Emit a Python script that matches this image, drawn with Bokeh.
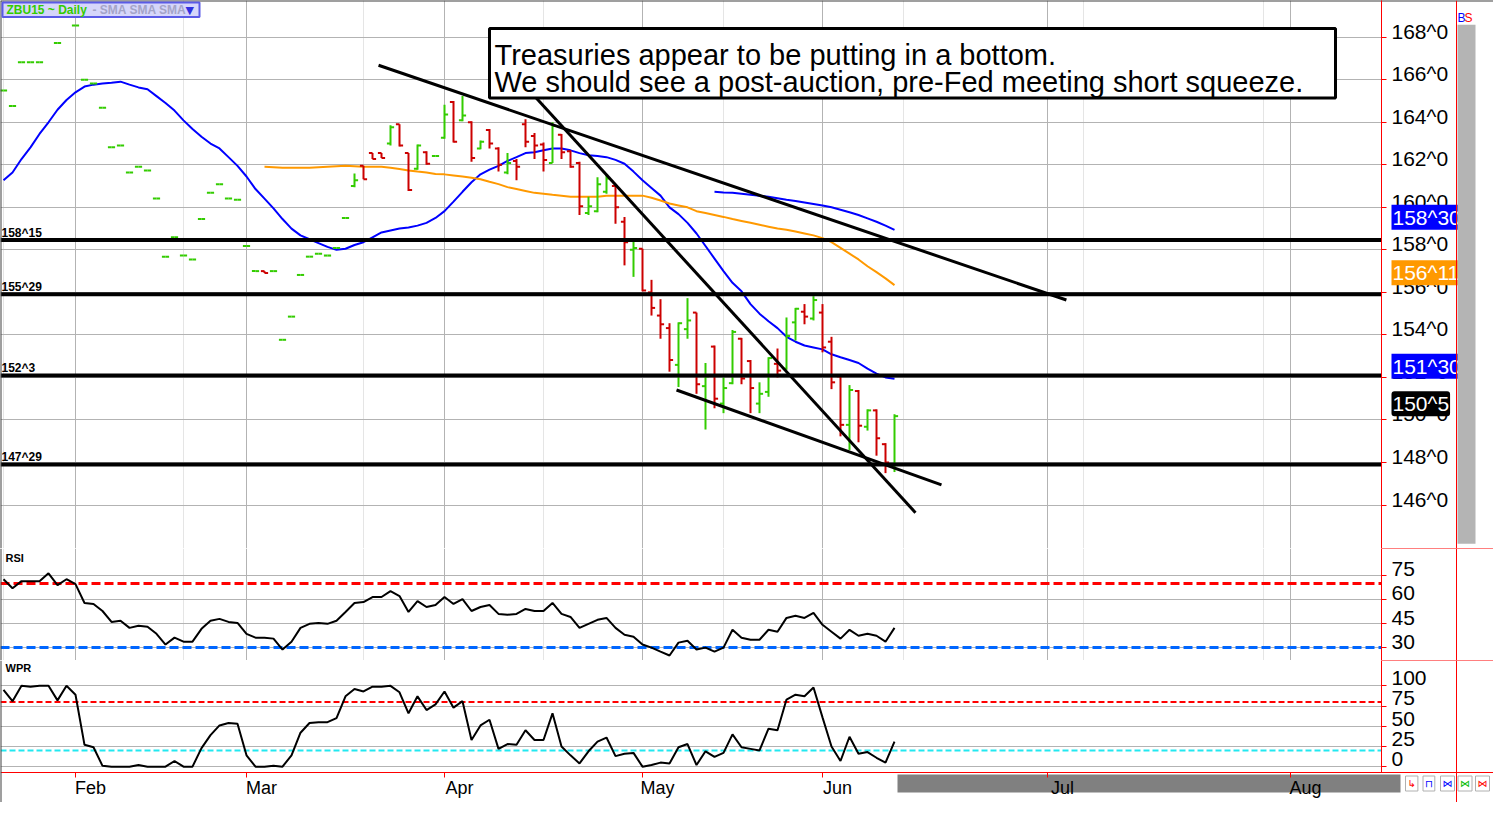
from bokeh.plotting import figure
from bokeh.models import (Range1d, LinearAxis, FixedTicker, CustomJSTickFormatter, Grid,
                          Span, BoxAnnotation, Label, ColumnDataSource)
from bokeh.layouts import column
from bokeh.transform import dodge
from bokeh.core.properties import value
from bokeh.embed import file_html
from bokeh.resources import INLINE

# ---------------- data ----------------
opens = [165.50, 164.77, 166.82, 166.82, 166.82, 169.05, 167.73, 169.09, 168.55, 166.00,
         165.82, 164.68, 162.82, 162.91, 161.64, 161.91, 161.73, 160.41, 157.68, 158.59,
         157.73, 157.55, 159.45, 160.68, 161.09, 160.41, 160.36, 158.18, 157.00, 157.00,
         157.00, 153.77, 154.86, 156.82, 157.68, 157.82, 157.73, 158.09, 159.50,
         161.00, 161.95, 162.55, 162.55, 163.00, 163.91, 162.55, 161.82, 162.59, 162.41,
         163.27, 164.95, 164.09, 164.00, 162.77, 163.64, 162.77, 161.64, 162.18, 163.91,
         163.36, 162.95, 162.09, 163.41, 162.64, 162.09, 159.73, 159.82, 160.73, 161.00,
         159.32, 158.00, 158.05, 156.00, 154.91, 154.32, 152.59, 154.27, 155.05, 151.59,
         153.45, 150.77, 151.73, 153.82, 152.77, 150.77, 151.32, 152.64, 152.41, 154.59,
         155.09, 154.77, 155.05, 153.68, 152.05, 149.77, 151.36, 149.68, 150.45, 148.86,
         147.91]
highs = [165.50, 164.77, 166.82, 166.82, 166.82, 169.05, 167.73, 169.09, 168.55, 166.00,
         165.82, 164.68, 162.82, 162.91, 161.64, 161.91, 161.73, 160.41, 157.68, 158.59,
         157.73, 157.55, 159.45, 160.68, 161.09, 160.41, 160.36, 158.18, 157.00, 157.00,
         157.00, 153.77, 154.86, 156.82, 157.68, 157.82, 157.73, 158.09, 159.50,
         161.59, 161.95, 162.55, 162.55, 163.86, 163.91, 162.55, 162.95, 162.64, 162.41,
         164.82, 165.00, 165.23, 164.05, 163.14, 163.68, 162.82, 162.55, 162.27, 164.14,
         163.50, 163.05, 164.00, 163.45, 162.68, 162.14, 160.50, 161.41, 161.55, 161.05,
         159.55, 158.41, 158.05, 156.59, 155.68, 154.55, 154.59, 155.73, 155.05, 152.68,
         153.50, 152.00, 154.23, 153.86, 152.82, 151.77, 152.95, 153.36, 154.82, 155.27,
         155.45, 155.82, 155.45, 153.91, 152.09, 151.64, 151.41, 150.50, 150.50, 148.91,
         150.27]
lows = [165.50, 164.77, 166.82, 166.82, 166.82, 169.05, 167.73, 169.09, 168.55, 166.00,
        165.82, 164.68, 162.82, 162.91, 161.64, 161.91, 161.73, 160.41, 157.68, 158.59,
        157.73, 157.55, 159.45, 160.68, 161.09, 160.41, 160.36, 158.18, 157.00, 156.91,
        157.00, 153.77, 154.86, 156.82, 157.68, 157.82, 157.73, 158.09, 159.50,
        160.95, 161.32, 162.27, 162.32, 162.91, 162.86, 160.77, 161.77, 162.00, 162.41,
        163.23, 163.05, 164.05, 162.14, 162.73, 162.77, 161.68, 161.55, 161.27, 162.82,
        162.27, 161.68, 162.09, 162.27, 161.86, 159.64, 159.64, 159.77, 160.64, 159.23,
        157.27, 156.73, 156.05, 154.91, 153.82, 152.27, 151.55, 153.82, 151.23, 149.55,
        150.55, 150.32, 151.68, 151.68, 150.32, 150.32, 151.09, 152.00, 152.36, 153.73,
        154.50, 154.68, 153.18, 151.45, 149.23, 148.59, 148.95, 149.50, 148.32, 147.50,
        147.55]
closes = [165.50, 164.77, 166.82, 166.82, 166.82, 169.05, 167.73, 169.09, 168.55, 166.00,
          165.82, 164.68, 162.82, 162.91, 161.64, 161.91, 161.73, 160.41, 157.68, 158.59,
          157.73, 157.55, 159.45, 160.68, 161.09, 160.41, 160.36, 158.18, 157.00, 156.91,
          157.00, 153.77, 154.86, 156.82, 157.68, 157.82, 157.73, 158.09, 159.50,
          161.27, 161.32, 162.27, 162.32, 163.77, 162.91, 160.82, 162.91, 162.05, 162.41,
          164.36, 163.09, 164.32, 162.32, 163.09, 163.00, 162.00, 162.09, 161.91, 163.09,
          162.91, 162.23, 163.82, 162.59, 161.91, 160.05, 160.05, 161.09, 161.36, 160.00,
          158.36, 158.09, 156.09, 155.27, 154.50, 152.82, 154.55, 154.68, 151.68, 152.05,
          151.00, 151.50, 154.14, 151.95, 151.50, 151.23, 152.91, 152.32, 153.95, 155.23,
          154.86, 155.64, 153.41, 151.77, 149.77, 151.41, 149.73, 150.45, 149.14, 148.00,
          150.18]

sma_fast = [161.27, 161.64, 162.27, 162.82, 163.45, 164.00, 164.59, 165.05, 165.41, 165.68,
            165.77, 165.82, 165.86, 165.91, 165.77, 165.64, 165.55, 165.23, 164.91, 164.55,
            164.09, 163.68, 163.32, 163.00, 162.77, 162.36, 161.95, 161.45, 160.86, 160.41,
            159.95, 159.45, 159.00, 158.68, 158.50, 158.32, 158.14, 158.00, 158.05, 158.23,
            158.36, 158.59, 158.82, 158.91, 159.00, 159.05, 159.14, 159.27, 159.50, 159.82,
            160.27, 160.73, 161.18, 161.55, 161.77, 161.95, 162.18, 162.36, 162.55, 162.59,
            162.68, 162.77, 162.77, 162.68, 162.55, 162.45, 162.41, 162.36, 162.23, 162.05,
            161.68, 161.27, 160.91, 160.55, 160.00, 159.68, 159.27, 158.77, 158.18, 157.59,
            157.00, 156.45, 156.05, 155.45, 155.00, 154.64, 154.32, 153.91, 153.68, 153.50,
            153.41, 153.32, 153.09, 152.95, 152.82, 152.68, 152.41, 152.18, 152.00, 151.94]
sma_mid_first = 29
sma_mid = [161.91, 161.89, 161.86, 161.86, 161.86, 161.86, 161.89, 161.91, 161.93, 161.95,
           161.93, 161.91, 161.91, 161.91, 161.86, 161.80, 161.73, 161.68, 161.64, 161.57,
           161.55, 161.50, 161.45, 161.39, 161.32, 161.20, 161.09, 160.95, 160.86, 160.77,
           160.68, 160.64, 160.59, 160.55, 160.50, 160.50, 160.50, 160.50, 160.55, 160.55,
           160.55, 160.55, 160.55, 160.45, 160.32, 160.18, 160.09, 160.00, 159.82, 159.73,
           159.64, 159.55, 159.45, 159.36, 159.27, 159.18, 159.09, 159.00, 158.95, 158.86,
           158.77, 158.68, 158.55, 158.36, 158.09, 157.82, 157.55, 157.23, 156.95, 156.66,
           156.34]
sma_slow_first = 79
sma_slow = [160.73, 160.70, 160.68, 160.64, 160.59, 160.55, 160.50, 160.43, 160.36, 160.30,
            160.23, 160.16, 160.09, 160.00, 159.89, 159.77, 159.64, 159.48, 159.32, 159.14,
            158.94]

rsi = [72.6, 67.0, 71.4, 71.4, 71.4, 76.3, 68.9, 72.6, 69.5, 57.8,
       57.2, 52.8, 46.0, 46.7, 42.3, 43.6, 43.0, 38.6, 31.9, 36.2,
       33.7, 33.7, 41.7, 46.7, 47.9, 46.0, 45.4, 38.6, 36.2, 36.2,
       35.6, 28.8, 33.7, 42.3, 44.8, 45.4, 44.8, 46.7, 52.2, 57.8,
       58.4, 61.5, 61.5, 65.2, 62.1, 52.2, 59.0, 55.3, 56.5, 61.5,
       57.2, 60.2, 52.8, 55.3, 56.5, 51.0, 50.4, 51.0, 54.1, 52.8,
       52.8, 57.8, 51.0, 49.1, 42.3, 44.8, 47.3, 48.5, 42.3, 38.0,
       36.8, 31.9, 30.0, 27.5, 25.1, 33.1, 34.3, 28.8, 30.0, 27.5,
       30.0, 41.1, 36.2, 34.9, 34.9, 41.1, 39.9, 48.5, 49.8, 48.5,
       51.6, 44.2, 39.9, 35.6, 41.1, 37.4, 38.6, 37.4, 33.7, 42.3]
wpr = [95, 81, 100, 99, 100, 100, 82, 100, 89, 27,
       24, 1, 0, 0, 0, 2, 0, 0, 0, 7,
       0, 0, 23, 39, 51, 54, 53, 14, 0, 0,
       1, 0, 14, 42, 54, 55, 55, 60, 87, 96,
       93, 99, 99, 100, 92, 66, 87, 70, 77, 93,
       73, 81, 33, 51, 58, 22, 28, 27, 45, 33,
       33, 66, 25, 14, 4, 19, 31, 36, 13, 16,
       17, 0, 2, 5, 4, 24, 28, 2, 19, 12,
       17, 40, 24, 22, 20, 47, 45, 83, 89, 87,
       98, 61, 25, 7, 37, 16, 18, 11, 5, 31]

levels = [158 + 15 / 32, 155 + 29 / 32, 152 + 3 / 32, 147 + 29 / 32]
level_labels = ["158^15", "155^29", "152^3", "147^29"]

trend_x0 = [41.67, 57.44, 74.78]
trend_y0 = [166.68, 165.95, 151.41]
trend_x1 = [118.10, 101.33, 104.22]
trend_y1 = [155.64, 145.64, 146.95]

price_ticks = [146, 148, 150, 152, 154, 156, 158, 160, 162, 164, 166, 168]
price_tick_labels = ["146^0", "148^0", "150^0", "152^0", "154^0", "156^0",
                     "158^0", "160^0", "162^0", "164^0", "166^0", "168^0"]
rsi_ticks = [30, 45, 60, 75]
rsi_tick_labels = ["30", "45", "60", "75"]
wpr_ticks = [0, 25, 50, 75, 100]
wpr_tick_labels = ["0", "25", "50", "75", "100"]
month_ticks = [8, 27, 49, 71, 91, 116, 143]
month_labels = ["Feb", "Mar", "Apr", "May", "Jun", "Jul", "Aug"]

rsi_bands = [70, 30]
wpr_bands = [80, 20]

last_labels = ["158^30", "156^11", "151^30", "150^5"]
last_values = [sma_slow[-1], sma_mid[-1], sma_fast[-1], closes[-1]]
last_colors = ["#0000ff", "#ff9900", "#0000ff", "#000000"]

note_lines = ["Treasuries appear to be putting in a bottom.",
              "We should see a post-auction, pre-Fed meeting short squeeze."]

# ---------------- layout ----------------
FULL = 1493
AXIS_PX = 1381
H_MAIN, H_RSI, H_WPR = 548, 112, 142
WPR_PLOT = 112
GRID = "#b3b3b3"
GREEN = "#33cc00"
RED = "#cc0000"
FONT = "Liberation Sans"


def bx(xpix):
    return (xpix - 3) / 9.0


def by(ypix):
    return 168 - (ypix - 38) / 22.0


def ry(ypix):
    return 30 + (667 - ypix) / 1.62


WPR_TOP = (789 - 680) / 0.83
WPR_AX = (789 - 795) / 0.83
WPR_PXU = WPR_PLOT / (WPR_TOP - WPR_AX)
WPR_BOT = WPR_AX - (H_WPR - WPR_PLOT) / WPR_PXU


def wy(ypix):
    return WPR_AX + (795 - ypix) / WPR_PXU


xr = Range1d(bx(0), bx(FULL))
AXIS_X = bx(AXIS_PX)

common = dict(width=FULL, x_range=xr, toolbar_location=None, output_backend="svg",
              y_axis_location="right", min_border_left=0, min_border_right=0,
              min_border_top=0, min_border_bottom=0, title=None,
              background_fill_color="white", border_fill_color="white", outline_line_color=None)


def right_axes(fig, ticks, labels, frame_h, bounds=None, shift_px=6):
    rng = fig.y_range
    ax = fig.yaxis[0]
    ax.fixed_location = AXIS_X
    ax.ticker = FixedTicker(ticks=ticks)
    ax.axis_line_color = "#ff0000"
    ax.major_tick_line_color = "#ff0000"
    ax.major_tick_out = 5
    ax.major_tick_in = 0
    ax.minor_tick_line_color = None
    ax.formatter = CustomJSTickFormatter(code="return ''")
    ax.major_label_text_font_size = "1px"
    ax.major_label_standoff = 0
    if bounds is not None:
        ax.bounds = bounds
    d = shift_px * (rng.end - rng.start) / frame_h
    fig.extra_y_ranges = {"lab": Range1d(rng.start - d, rng.end - d)}
    lab = LinearAxis(y_range_name="lab", ticker=FixedTicker(ticks=ticks), fixed_location=AXIS_X,
                     formatter=CustomJSTickFormatter(
                         args=dict(tk=ticks, lb=labels),
                         code="const i = Array.from(tk).indexOf(tick); return i < 0 ? '' : lb[i];"))
    lab.axis_line_color = None
    lab.major_tick_line_color = None
    lab.minor_tick_line_color = None
    lab.major_tick_out = 0
    lab.major_tick_in = 0
    lab.major_label_standoff = 10
    lab.major_label_text_font = FONT
    lab.major_label_text_font_size = "21px"
    lab.major_label_text_color = "black"
    fig.add_layout(lab, "right")
    fig.ygrid.ticker = FixedTicker(ticks=ticks)
    fig.ygrid.grid_line_color = GRID
    fig.add_layout(Grid(dimension=0, ticker=FixedTicker(ticks=month_ticks), grid_line_color=GRID))
    fig.add_layout(Span(location=xr.start, dimension="height", line_color="#404040", line_width=2))


def cover_axis_area(fig, bottom=None):
    # white underlay so that grid and band lines stop at the axis line
    fig.add_layout(BoxAnnotation(left=AXIS_X, right=bx(FULL + 20), top=fig.y_range.end + 1000,
                                 bottom=fig.y_range.start - 1000 if bottom is None else bottom,
                                 fill_color="white", fill_alpha=1, line_alpha=0, level="underlay"))


def frame_axis_area(fig, top, bottom):
    fig.add_layout(BoxAnnotation(left=AXIS_X, right=bx(FULL + 20), top=top, bottom=bottom,
                                 fill_alpha=0, line_color="#ff0000", line_alpha=1, line_width=1))
    fig.add_layout(Span(location=bx(1456), dimension="height", line_color="#ff0000", line_width=1))


# ---------------- main price panel ----------------
p = figure(height=H_MAIN, y_range=Range1d(by(567), by(0)), x_axis_location=None, **common)
right_axes(p, price_ticks, price_tick_labels, H_MAIN)
cover_axis_area(p)
p.add_layout(Span(location=p.y_range.end, dimension="width", line_color="#404040", line_width=2))

p.line(x=list(range(len(sma_fast))), y=sma_fast, line_color="#0000ff", line_width=2)
p.line(x=list(range(sma_mid_first, sma_mid_first + len(sma_mid))), y=sma_mid,
       line_color="#ff9900", line_width=2)
p.line(x=list(range(sma_slow_first, sma_slow_first + len(sma_slow))), y=sma_slow,
       line_color="#0000ff", line_width=2)

src = ColumnDataSource(dict(x=list(range(len(closes))), o=opens, h=highs, l=lows, c=closes,
                            col=[GREEN if c >= o else RED for o, c in zip(opens, closes)]))
p.segment(x0="x", y0="l", x1="x", y1="h", line_color="col", line_width=2, source=src)
p.segment(x0=dodge("x", -0.4), y0="o", x1="x", y1="o", line_color="col", line_width=2, source=src)
p.segment(x0="x", y0="c", x1=dodge("x", 0.4), y1="c", line_color="col", line_width=2, source=src)

p.segment(x0=trend_x0, y0=trend_y0, x1=trend_x1, y1=trend_y1, line_color="black", line_width=3)

p.segment(x0=[xr.start] * len(levels), y0=levels, x1=[AXIS_X] * len(levels), y1=levels,
          line_color="black", line_width=4)
p.text(x=[bx(1)] * len(levels), y=levels, text=level_labels, text_font=value(FONT),
       text_font_style="bold", text_font_size="12px", text_baseline="bottom",
       y_offset=0, text_color="black")

# header
p.add_layout(BoxAnnotation(left=bx(2), right=bx(199), top=by(2), bottom=by(17),
                           fill_color="#d6d6fa", fill_alpha=1, line_color="#5a5ae6",
                           line_alpha=1, line_width=2))
p.add_layout(Label(x=bx(6), y=by(10), text="ZBU15 ~ Daily", text_font=FONT, text_font_style="bold",
                   text_font_size="12px", text_color=GREEN, text_baseline="middle"))
p.add_layout(Label(x=bx(92), y=by(10), text="-  SMA SMA SMA", text_font=FONT, text_font_style="bold",
                   text_font_size="12px", text_color="#a4a4c8", text_baseline="middle"))
p.add_layout(Label(x=bx(185), y=by(10), text="\u25bc", text_font="DejaVu Sans",
                   text_font_size="11px", text_color="#3030e0", text_baseline="middle"))

# note box
p.add_layout(BoxAnnotation(left=bx(489), right=bx(1335), top=by(29), bottom=by(101),
                           fill_color="white", fill_alpha=1, line_color="black",
                           line_alpha=1, line_width=3))
for k, line in enumerate(note_lines):
    p.add_layout(Label(x=bx(494), y=by(56 + 28 * k), text=line, text_font=FONT,
                       text_font_size="29px", text_color="black", text_baseline="alphabetic"))

# right area
for lab_txt, v, colr in zip(last_labels, last_values, last_colors):
    p.add_layout(Label(x=bx(1391), y=v, text=lab_txt, text_font=FONT, text_font_size="21px",
                       text_color="white", background_fill_color=colr, padding=1,
                       border_radius=3 if colr == "#000000" else 0, text_baseline="bottom"))
p.add_layout(BoxAnnotation(left=bx(1457), right=bx(1475), top=by(25), bottom=by(562),
                           fill_color="#b4b4b4", fill_alpha=1, line_alpha=0))
p.add_layout(Label(x=bx(1457), y=by(18), text="B", text_font=FONT, text_font_size="12px",
                   text_color="#0000ff", text_baseline="middle"))
p.add_layout(Label(x=bx(1464), y=by(18), text="S", text_font=FONT, text_font_size="12px",
                   text_color="#ff0000", text_baseline="middle"))
frame_axis_area(p, by(-40), p.y_range.start)

# ---------------- RSI panel ----------------
p2 = figure(height=H_RSI, y_range=Range1d(ry(680), ry(567)), x_axis_location=None, **common)
right_axes(p2, rsi_ticks, rsi_tick_labels, H_RSI)
for b, colr in zip(rsi_bands, ["#ff0000", "#0066ff"]):
    p2.add_layout(Span(location=b, dimension="width", line_color=colr, line_width=3,
                       line_dash="9 4", level="underlay"))
cover_axis_area(p2)
p2.line(x=list(range(len(rsi))), y=rsi, line_color="black", line_width=2)
p2.add_layout(Label(x=bx(5), y=ry(577), text="RSI", text_font=FONT, text_font_style="bold",
                    text_font_size="11px", text_color="black", text_baseline="middle"))
frame_axis_area(p2, p2.y_range.end, p2.y_range.start)

# ---------------- WPR panel ----------------
p3 = figure(height=H_WPR, y_range=Range1d(WPR_BOT, WPR_TOP), x_axis_location="below", **common)
right_axes(p3, wpr_ticks, wpr_tick_labels, WPR_PLOT, bounds=(WPR_AX, WPR_TOP + 10))
p3.xgrid.grid_line_color = None
for b, colr in zip(wpr_bands, ["#ff0000", "#22e8f0"]):
    p3.add_layout(Span(location=b, dimension="width", line_color=colr, line_width=2,
                       line_dash="6 3", level="underlay"))
cover_axis_area(p3, bottom=WPR_AX)
# white strip under the date axis (grid lines stop at the axis)
p3.add_layout(BoxAnnotation(left=xr.start - 5, right=bx(FULL + 20), top=WPR_AX, bottom=WPR_BOT - 50,
                            fill_color="white", fill_alpha=1, line_alpha=0, level="underlay"))
p3.add_layout(BoxAnnotation(left=bx(897), right=bx(1400), top=wy(797), bottom=wy(815),
                            fill_color="#808080", fill_alpha=1, line_alpha=0, level="underlay"))

xa = p3.xaxis[0]
xa.fixed_location = WPR_AX
xa.ticker = FixedTicker(ticks=month_ticks)
xa.axis_line_color = "#ff0000"
xa.major_tick_line_color = "#ff0000"
xa.major_tick_out = 5
xa.major_tick_in = 0
xa.minor_tick_line_color = None
xa.formatter = CustomJSTickFormatter(code="return ''")
xa.major_label_text_font_size = "1px"
xa.major_label_standoff = 0
dx = 15 / 9.0
p3.extra_x_ranges = {"mlab": Range1d(xr.start - dx, xr.end - dx)}
mla = LinearAxis(x_range_name="mlab", ticker=FixedTicker(ticks=month_ticks), fixed_location=WPR_AX,
                 formatter=CustomJSTickFormatter(
                     args=dict(tk=month_ticks, lb=month_labels),
                     code="const i = Array.from(tk).indexOf(tick); return i < 0 ? '' : lb[i];"))
mla.axis_line_color = None
mla.major_tick_line_color = None
mla.minor_tick_line_color = None
mla.major_tick_out = 0
mla.major_tick_in = 0
mla.major_label_standoff = 5
mla.major_label_text_font = FONT
mla.major_label_text_font_size = "18px"
mla.major_label_text_color = "black"
p3.add_layout(mla, "below")

p3.line(x=list(range(len(wpr))), y=wpr, line_color="black", line_width=2)
p3.add_layout(Label(x=bx(5), y=wy(690), text="WPR", text_font=FONT, text_font_style="bold",
                    text_font_size="11px", text_color="black", text_baseline="middle"))
frame_axis_area(p3, p3.y_range.end, WPR_AX)
for k, (sym, colr) in enumerate(zip(["\u21b3", "\u2293", "\u22c8", "\u22c8", "\u22c8"],
                                    ["#ff0000", "#0000ff", "#0000ff", "#00bb00", "#ff0000"])):
    p3.add_layout(Label(x=bx(1405 + 17.5 * k), y=wy(806), text=sym, text_font="DejaVu Sans",
                        text_font_size="10px", text_color=colr, text_baseline="middle",
                        background_fill_color="white", border_line_color="#b0b0b0", padding=2))

layout = column(p, p2, p3, spacing=0)
open("out.html", "w").write(file_html(layout, INLINE))
